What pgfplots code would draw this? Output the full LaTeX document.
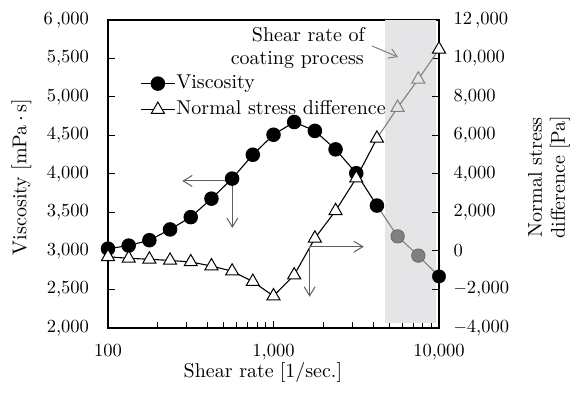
\documentclass[border=0pt]{standalone}
\usepackage{fontspec}
\setmainfont{lmroman10-regular.otf}
\usepackage{pgfplots}
\pgfplotsset{compat=1.18}
\usetikzlibrary{arrows.meta}
\definecolor{shade}{RGB}{229,229,231}
\definecolor{dgray}{RGB}{128,128,128}
\definecolor{mgray}{RGB}{105,105,105}
\definecolor{agray}{RGB}{95,95,95}
\newcommand{\fs}{\fontsize{18.5}{23}\selectfont}
\newcommand{\ft}{\fontsize{20}{23}\selectfont}
\newcommand{\s}{\hspace{0.3em}}
\begin{document}
\begin{tikzpicture}[x=1pt,y=1pt]
\path[use as bounding box] (0,0) rectangle (571,393);
\pgfplotsset{
  legend image code/.code={\draw[mark repeat=2,mark phase=2,#1] plot coordinates {(0pt,0pt) (17pt,0pt) (34pt,0pt)};},
  every tick label/.append style={font=\fs},
}
% Left axis: viscosity
\begin{axis}[
  at={(108pt,65pt)}, anchor=south west, scale only axis,
  width=331pt, height=308pt,
  xmode=log, xmin=100, xmax=10000,
  ymin=2000, ymax=6000,
  xtick={100,1000,10000}, xticklabels={100,{1,000},{10,000}},
  ytick={2000,2500,3000,3500,4000,4500,5000,5500,6000},
  yticklabels={{2,000},{2,500},{3,000},{3,500},{4,000},{4,500},{5,000},{5,500},{6\,,000}},
  xtick pos=left, ytick pos=left,
  tick align=inside, major tick length=7pt, minor tick length=6pt,
  tick style={black, line width=1pt},
  axis line style={line width=1.5pt},
  xticklabel style={yshift=-13pt},
  yticklabel style={xshift=-15.5pt},
  scaled y ticks=false,
  clip=false,
  xlabel={Shear rate\s [1/sec.]},
  xlabel style={font=\ft, at={(axis description cs:0.468,-0.146)}, anchor=center},
  ylabel={Viscosity\s [mPa$\,\cdot\,$s]},
  ylabel style={font=\ft, at={(axis description cs:-0.262,0.49)}, anchor=center},
]
\addplot[draw=none, fill=shade, forget plot] coordinates {(4700,2065) (9600,2065) (9600,6000) (4700,6000)} -- cycle;
% gray part
\addplot[dgray, line width=1.1pt, no marks] coordinates {(4217,3590) (5623.4,3190) (7498.9,2940) (10000,2670)};
\addplot[only marks, mark=*, mark size=6.7pt, mark options={fill=dgray, draw=mgray, line width=0.8pt}] coordinates {(5623.4,3190) (7498.9,2940)};
\addplot[only marks, mark=*, mark size=6.7pt, mark options={fill=black, draw=black}] coordinates {(10000,2670)};
% black part
\addplot[black, line width=1.1pt, mark=*, mark size=6.7pt, mark options={fill=black}] coordinates {
(100,3030) (133.35,3070) (177.83,3140) (237.14,3280) (316.23,3440) (421.70,3680)
(562.34,3940) (749.89,4250) (1000,4510) (1333.5,4675) (1778.3,4560) (2371.4,4320)
(3162.3,4010) (4217,3590)};
% arrows
\draw[agray, line width=1pt, -{Straight Barb[length=9pt,width=11pt]}] (axis cs:564,3910) -- (axis cs:281,3910);
\draw[agray, line width=1pt, -{Straight Barb[length=9pt,width=11pt]}] (axis cs:564,3910) -- (axis cs:564,3300);
\end{axis}
% Right axis: normal stress difference
\begin{axis}[
  at={(108pt,65pt)}, anchor=south west, scale only axis,
  width=331pt, height=308pt,
  xmode=log, xmin=100, xmax=10000,
  ymin=-4000, ymax=12000,
  axis x line=none, axis y line*=right,
  ytick={-4000,-2000,0,2000,4000,6000,8000,10000,12000},
  yticklabels={{$-$4,000},{$-$2,000},0,{2,000},{4,000},{6,000},{8,000},{10,000},{12\,,000}},
  scaled y ticks=false,
  tick align=inside, major tick length=7pt,
  tick style={black, line width=1pt},
  axis line style={line width=1.5pt},
  yticklabel style={xshift=11pt},
  clip=false,
  ylabel={Normal stress\\difference\s [Pa]},
  ylabel style={font=\ft, align=center, at={(axis description cs:1.332,0.49)}, anchor=center},
  legend style={draw=none, fill=none, at={(axis description cs:0.097,0.825)}, anchor=north west,
    font=\ft, inner sep=0pt, row sep=7pt,
    nodes={inner sep=1pt, text height=13pt, text depth=4pt}},
  legend cell align=left,
]
\addlegendimage{black, line width=1.1pt, mark=*, mark size=6.7pt, mark options={fill=black}}
\addlegendentry{Viscosity}
\addplot[dgray, line width=1.1pt, no marks, forget plot] coordinates {(4217,5850) (5623.4,7450) (7498.9,8920) (10000,10480)};
\addplot[only marks, mark=triangle*, mark size=7.5pt, mark options={fill=shade, draw=dgray, line width=1pt}, forget plot] coordinates {(5623.4,7450) (7498.9,8920)};
\addplot[only marks, mark=triangle*, mark size=7.5pt, mark options={fill=white, draw=black, line width=1pt}, forget plot] coordinates {(10000,10480)};
\addplot[black, line width=1.1pt, mark=triangle*, mark size=7.5pt, mark options={fill=white, line width=1pt}] coordinates {
(100,-300) (133.35,-380) (177.83,-430) (237.14,-490) (316.23,-570) (421.70,-780)
(562.34,-1050) (749.89,-1590) (1000,-2340) (1333.5,-1250) (1778.3,660) (2371.4,2090)
(3162.3,3780) (4217,5850)};
\addlegendentry{Normal stress difference}
\draw[agray, line width=1pt, -{Straight Barb[length=9pt,width=11pt]}] (axis cs:1653,223) -- (axis cs:3510,223);
\draw[agray, line width=1pt, -{Straight Barb[length=9pt,width=11pt]}] (axis cs:1653,223) -- (axis cs:1653,-2374);
\end{axis}
% annotation
\node[font=\ft, anchor=base east, inner sep=0pt] at (365,351) {Shear rate of};
\node[font=\ft, anchor=base east, inner sep=0pt] at (364,328) {coating process};
\draw[dgray, line width=1pt, -{Straight Barb[length=8pt,width=10pt]}] (372,347) -- (398,336);
\end{tikzpicture}
\end{document}
